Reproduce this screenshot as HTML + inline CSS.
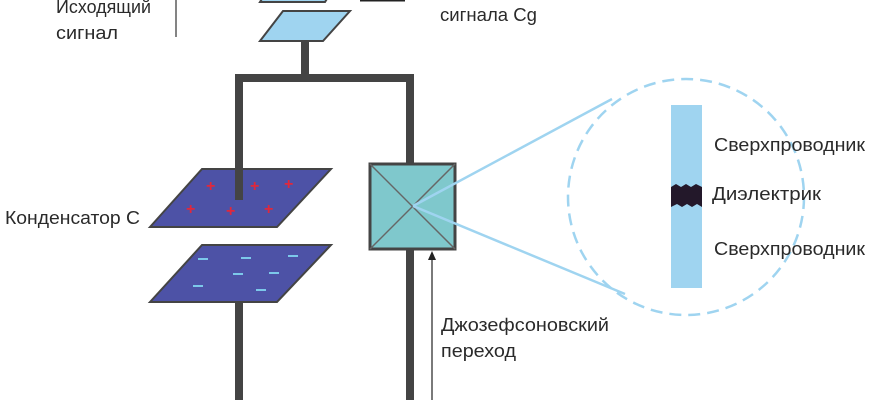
<!DOCTYPE html><html><head><meta charset="utf-8"><style>body{margin:0;background:#fff}svg{display:block}text.l{font-family:"Liberation Sans",sans-serif;font-size:18px;fill:#2a2a2a}</style></head><body>
<svg width="870" height="400" viewBox="0 0 870 400">
<polygon points="260,2 265,-6 330,-6 325,2" fill="#9fd4f0" stroke="#444" stroke-width="2"/>
<polygon points="260,41 283,11 350,11 323,41" fill="#9fd4f0" stroke="#444" stroke-width="2"/>
<line x1="405" y1="0" x2="360" y2="0" stroke="#222" stroke-width="3"/>
<line x1="176" y1="0" x2="176" y2="37" stroke="#333" stroke-width="1.2"/>
<text class="l" x="56" y="13" textLength="95" lengthAdjust="spacingAndGlyphs">Исходящий</text><text class="l" x="56" y="39" textLength="62" lengthAdjust="spacingAndGlyphs">сигнал</text>
<text class="l" x="440" y="21" textLength="97" lengthAdjust="spacingAndGlyphs">сигнала Cg</text>
<g stroke="#444" stroke-width="8" fill="none">
<line x1="305" y1="41" x2="305" y2="78"/>
<polyline points="239,200 239,78 410,78 410,400"/>
<line x1="239" y1="300" x2="239" y2="400"/>
</g>
<polygon points="150,227 202,169 331,169 277,227" fill="#4d52a6" stroke="#444" stroke-width="2"/>
<line x1="239" y1="165" x2="239" y2="200" stroke="#444" stroke-width="8"/>
<g style="fill:#e0283c" font-size="16" font-weight="bold" font-family="Liberation Sans"><text x="206" y="191">+</text><text x="250" y="191">+</text><text x="284" y="189">+</text><text x="186" y="214">+</text><text x="226" y="216">+</text><text x="264" y="214">+</text></g>
<polygon points="150,302 202,245 331,245 277,302" fill="#4d52a6" stroke="#444" stroke-width="2"/>
<g stroke="#7cc8ea" stroke-width="2"><line x1="198" y1="259" x2="208" y2="259"/><line x1="241" y1="258" x2="251" y2="258"/><line x1="288" y1="256" x2="298" y2="256"/><line x1="233" y1="274" x2="243" y2="274"/><line x1="269" y1="273" x2="279" y2="273"/><line x1="193" y1="286" x2="203" y2="286"/><line x1="256" y1="290" x2="266" y2="290"/></g>
<text class="l" x="5" y="224" textLength="135" lengthAdjust="spacingAndGlyphs">Конденсатор C</text>
<rect x="370" y="164" width="85" height="85" fill="#7fc8cc" stroke="#444" stroke-width="3"/>
<line x1="370" y1="164" x2="455" y2="249" stroke="#666" stroke-width="1.5"/><line x1="455" y1="164" x2="370" y2="249" stroke="#666" stroke-width="1.5"/>
<line x1="413" y1="206" x2="612" y2="99" stroke="#9fd4f0" stroke-width="2.5"/>
<line x1="413" y1="206" x2="625" y2="294" stroke="#9fd4f0" stroke-width="2.5"/>
<circle cx="686" cy="197" r="118" fill="none" stroke="#9fd4f0" stroke-width="2.5" stroke-dasharray="12,7"/>
<rect x="671" y="105" width="31" height="183" fill="#9fd4f0"/>
<path d="M671,187 l5,-3 5,3 5,-3 5,3 5,-3 6,3 v20 l-5,-3 -5,3 -5,-3 -5,3 -5,-3 -6,3z" fill="#23182a"/>
<text class="l" x="714" y="151" textLength="151" lengthAdjust="spacingAndGlyphs">Сверхпроводник</text><text class="l" x="712" y="200" textLength="109" lengthAdjust="spacingAndGlyphs">Диэлектрик</text><text class="l" x="714" y="255" textLength="151" lengthAdjust="spacingAndGlyphs">Сверхпроводник</text>
<line x1="432" y1="400" x2="432" y2="258" stroke="#222" stroke-width="1.2"/><polygon points="428,260 436,260 432,251" fill="#222"/>
<text class="l" x="441" y="331" textLength="168" lengthAdjust="spacingAndGlyphs">Джозефсоновский</text><text class="l" x="441" y="357" textLength="75" lengthAdjust="spacingAndGlyphs">переход</text>
</svg></body></html>
